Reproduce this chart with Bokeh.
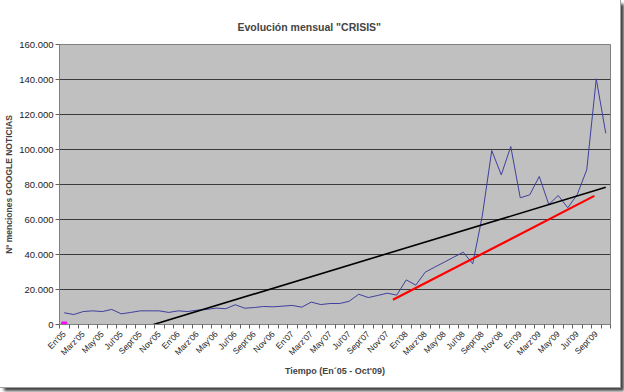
import math
from bokeh.plotting import figure
from bokeh.models import Range1d, FixedTicker
from bokeh.embed import file_html
from bokeh.resources import INLINE

# ---- data ----
month_abbr = ["En", "Feb", "Marz", "Abr", "May", "Jun", "Jul", "Ago", "Sept", "Oct", "Nov", "Dic"]
years = ["05", "06", "07", "08", "09"]
months = [f"{m}'{y}" for y in years for m in month_abbr][:58]   # En'05 .. Oct'09

menciones = [
    6700, 5700, 7400, 7800, 7400, 8600, 6100, 6900, 7800, 7800, 7800, 6900,
    7800, 7400, 8200, 8600, 9400, 9000, 11300, 9300, 9700, 10300, 10100, 10500,
    10900, 9900, 12800, 11400, 12000, 12000, 13300, 17300, 15400, 16600, 17900, 16800,
    25500, 22500, 29900, 32800, 35600, 38500, 41300, 34700, 62000, 99400, 85500, 101700,
    72400, 74100, 84600, 68600, 73700, 66700, 74300, 88400, 140400, 109300,
]

marker_month = ["En'05"]
marker_value = [0]

trend_months = ["En'05", "Oct'09"]
trend_values = [-15500, 78400]

red_month_pos = [34.6, 55.8]      # fractional month index
red_values = [14100, 73500]

y_ticks = [0, 20000, 40000, 60000, 80000, 100000, 120000, 140000, 160000]

# ---- figure ----
idx = {m: i for i, m in enumerate(months)}
xs = list(range(len(months)))

p = figure(width=620, height=387, output_backend="svg", toolbar_location=None,
           x_range=Range1d(-0.5, len(months) - 0.5), y_range=Range1d(0, 160000),
           min_border_left=59, min_border_right=10, min_border_top=44, min_border_bottom=63)

p.background_fill_color = "#C0C0C0"
p.border_fill_color = "white"
p.outline_line_color = "#808080"
p.styles = {"outline": "1px solid #a0a0a0", "box-shadow": "4px 4px 3px #404040"}

p.title.text = 'Evolución mensual "CRISIS"'
p.title.align = "left"
p.title.offset = 178
p.title.text_font = "Liberation Sans"
p.title.text_font_size = "10.5px"
p.title.text_font_style = "bold"
p.title.standoff = 24

p.line(xs, menciones, line_color="#3f3f9e", line_width=1)
p.line([idx[m] for m in trend_months], trend_values, line_color="black", line_width=1.6)
p.line(red_month_pos, red_values, line_color="#ff0000", line_width=2.2)
p.scatter([idx[m] for m in marker_month], marker_value, marker="square", size=5,
          fill_color="#ff00ff", line_color="#ff00ff")

# grid
p.xgrid.grid_line_color = None
p.ygrid.grid_line_color = "#3a3a3a"
p.ygrid.grid_line_width = 1

# x axis
xa = p.xaxis[0]
xa.ticker = FixedTicker(ticks=list(range(0, len(months), 2)),
                        minor_ticks=[i - 0.5 for i in range(len(months) + 1)])
xa.major_label_overrides = {i: months[i] for i in range(0, len(months), 2)}
xa.major_label_orientation = math.pi / 4
xa.major_tick_line_color = None
xa.minor_tick_line_color = "#606060"
xa.minor_tick_in = 0
xa.minor_tick_out = 4
xa.axis_line_color = "#808080"
xa.major_label_text_font = "Liberation Sans"
xa.major_label_text_font_size = "8.5px"
xa.major_label_text_color = "#222222"
xa.major_label_standoff = 2
xa.axis_label = "Tiempo (En´05 - Oct'09)"
xa.axis_label_text_font = "Liberation Sans"
xa.axis_label_text_font_size = "9px"
xa.axis_label_text_font_style = "bold"
xa.axis_label_standoff = 2

# y axis
ya = p.yaxis[0]
ya.ticker = FixedTicker(ticks=y_ticks)
ya.major_label_overrides = {v: f"{v:,}".replace(",", ".") for v in y_ticks}
ya.minor_tick_line_color = None
ya.major_tick_in = 0
ya.major_tick_out = 4
ya.major_tick_line_color = "#606060"
ya.axis_line_color = "#808080"
ya.major_label_text_font = "Liberation Sans"
ya.major_label_text_font_size = "9.5px"
ya.major_label_text_color = "#222222"
ya.major_label_standoff = 2
ya.axis_label = "Nº menciones GOOGLE NOTICIAS"
ya.axis_label_text_font = "Liberation Sans"
ya.axis_label_text_font_size = "8.5px"
ya.axis_label_text_font_style = "bold"
ya.axis_label_standoff = 2

open("out.html", "w").write(file_html(p, INLINE))
